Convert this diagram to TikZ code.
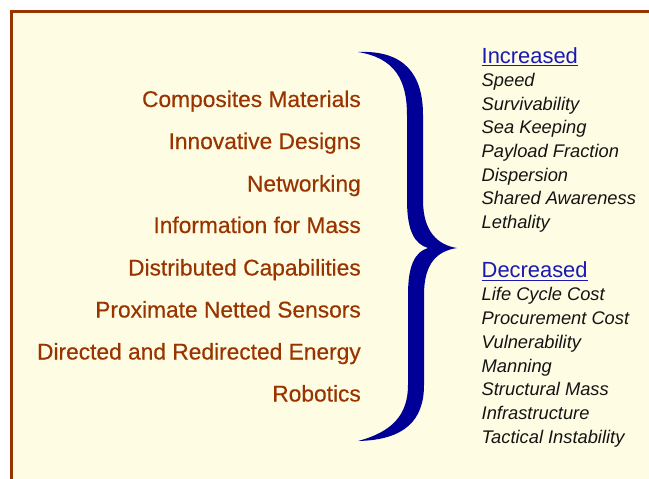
\documentclass[tikz,border=0pt]{standalone}
\usepackage{fontspec}
\setmainfont{Liberation Sans}
\newfontfamily\heavyfont[FakeBold=0.35]{Liberation Sans}
\definecolor{cream}{RGB}{254,252,226}
\definecolor{frame}{RGB}{153,51,0}
\definecolor{item}{RGB}{153,51,0}
\definecolor{hdr}{RGB}{26,26,178}
\definecolor{brace}{RGB}{0,0,150}
\definecolor{txt}{RGB}{20,20,20}
\tikzset{
  lefttext/.style={anchor=base east, inner sep=0pt, text=item, font=\heavyfont\fontsize{22.75}{26}\selectfont},
  hdrtext/.style={anchor=base west, inner sep=0pt, text=hdr, font=\fontsize{21.9}{26}\selectfont},
  ittext/.style={anchor=base west, inner sep=0pt, text=txt, font=\fontsize{18.3}{22}\selectfont\itshape},
  hdrline/.style={draw=hdr, line width=1pt},
}
\begin{document}
\begin{tikzpicture}[x=1pt,y=-1pt]
\useasboundingbox (0,0) rectangle (649,479);
\fill[white] (0,0) rectangle (649,479);
\fill[frame] (10,10) rectangle (649,479);
\fill[cream] (13.3,13.3) rectangle (649,479);
% left items
\node[lefttext] (l1) at (361,107) {Composites Materials};
\node[lefttext] (l2) at (361,149) {Innovative Designs};
\node[lefttext] (l3) at (361,191.5) {Networking};
\node[lefttext] (l4) at (361,233) {Information for Mass};
\node[lefttext] (l5) at (361,275.5) {Distributed Capabilities};
\node[lefttext] (l6) at (361,317.5) {Proximate Netted Sensors};
\node[lefttext] (l7) at (361,359.5) {Directed and Redirected Energy};
\node[lefttext] (l8) at (361,401.5) {Robotics};
% brace
\fill[brace] (358,52) .. controls (405,50) and (423,75) .. (423,115)
  -- (423,200) .. controls (423,232) and (438,245) .. (457,248)
  .. controls (438,251) and (424,262) .. (424,295)
  -- (424,385) .. controls (424,420) and (405,440) .. (358,441)
  .. controls (392,432) and (408,415) .. (408,385)
  -- (408,295) .. controls (408,265) and (415,252) .. (428,248)
  .. controls (415,244) and (407,232) .. (407,200)
  -- (407,115) .. controls (407,80) and (395,58) .. (358,52) -- cycle;
% increased
\node[hdrtext] (inc) at (481.5,63.3) {Increased};
\draw[hdrline] ([yshift=-2pt]inc.base west) -- ([yshift=-2pt]inc.base east);
\node[ittext] (i1) at (481.5,86.6) {Speed};
\node[ittext] (i2) at (481.5,110.2) {Survivability};
\node[ittext] (i3) at (481.5,133.8) {Sea Keeping};
\node[ittext] (i4) at (481.5,157.4) {Payload Fraction};
\node[ittext] (i5) at (481.5,181) {Dispersion};
\node[ittext] (i6) at (481.5,204.6) {Shared Awareness};
\node[ittext] (i7) at (481.5,228.2) {Lethality};
% decreased
\node[hdrtext] (dec) at (481.5,277) {Decreased};
\draw[hdrline] ([yshift=-3.5pt]dec.base west) -- ([yshift=-3.5pt]dec.base east);
\node[ittext] (d1) at (481.5,300.7) {Life Cycle Cost};
\node[ittext] (d2) at (481.5,324.5) {Procurement Cost};
\node[ittext] (d3) at (481.5,348.3) {Vulnerability};
\node[ittext] (d4) at (481.5,372.1) {Manning};
\node[ittext] (d5) at (481.5,395.9) {Structural Mass};
\node[ittext] (d6) at (481.5,419.7) {Infrastructure};
\node[ittext] (d7) at (481.5,443.5) {Tactical Instability};
\end{tikzpicture}
\end{document}
